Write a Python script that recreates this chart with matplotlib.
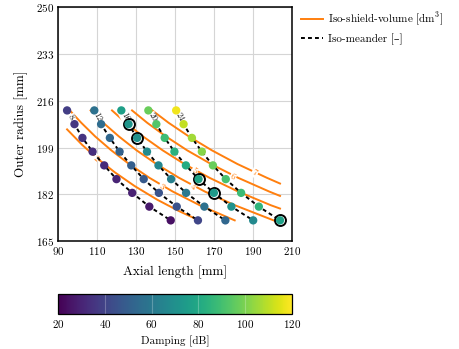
import numpy as np
import matplotlib
matplotlib.use("Agg")
from matplotlib import pyplot as plt

plt.rcParams['font.family'] = ['cmr10', 'DejaVu Serif']
plt.rcParams['mathtext.fontset'] = 'cm'
plt.rcParams['axes.formatter.use_mathtext'] = True

# outer radius of every point row (same for all meander lines)
radius = [212.5, 207.5, 202.5, 197.5, 192.5, 187.5, 182.5, 177.5, 172.5]

# axial length per meander line, top row to bottom row
meanders = [8, 12, 16, 20, 24]
length_8 = [94.5, 98.3, 102.4, 107.6, 113.6, 119.9, 128.0, 136.8, 147.8]
length_12 = [108.5, 112.0, 116.5, 121.5, 127.5, 133.9, 141.7, 150.9, 161.8]
length_16 = [122.4, 126.1, 130.5, 135.6, 141.5, 148.0, 155.7, 165.1, 175.9]
length_20 = [136.3, 140.4, 144.7, 149.7, 155.6, 162.1, 170.0, 179.0, 190.2]
length_24 = [150.6, 154.4, 158.7, 163.8, 169.5, 176.1, 184.0, 193.1, 204.0]

# damping [dB] per point
damp_8 = [38, 36, 35, 33, 32, 30, 29, 27, 24]
damp_12 = [57, 55, 53, 51, 50, 48, 46, 45, 41]
damp_16 = [76, 72, 70, 68, 66, 63, 60, 57, 53]
damp_20 = [97, 93, 89, 84, 81, 78, 74, 71, 67]
damp_24 = [118, 111, 106, 102, 97, 91, 88, 85, 77]

# highlighted designs (meander index, row index)
highlight = [(2, 1), (2, 2), (3, 5), (3, 6), (4, 8)]

# iso shield volume curves [dm3]
volumes = [2, 3, 4, 5, 6, 7]
iso_L = [
    [94.5, 102.2, 110.1, 119.0, 129.2, 140.9, 151.7, 162.3],
    [95.9, 101.8, 109.0, 117.2, 126.4, 136.8, 148.8, 162.7, 180.7],
    [106.6, 113.1, 121.2, 130.2, 140.4, 152.0, 165.3, 180.8, 200.7],
    [117.6, 124.7, 133.6, 143.6, 154.8, 167.7, 182.4, 199.3, 204.0],
    [127.9, 135.7, 145.4, 156.2, 168.5, 182.4, 198.4, 204.0],
    [138.3, 146.7, 157.2, 168.9, 182.1, 197.2, 204.0],
]
iso_r = [
    [205.6, 200, 195, 190, 185, 180, 176, 172.5],
    [212.5, 208, 203, 198, 193, 188, 183, 178, 172.5],
    [212.5, 208, 203, 198, 193, 188, 183, 178, 172.5],
    [212.5, 208, 203, 198, 193, 188, 183, 178, 176.8],
    [212.5, 208, 203, 198, 193, 188, 183, 181.4],
    [212.5, 208, 203, 198, 193, 188, 185.9],
]
# label positions on the volume curves
vol_lab_L = [109.0, 143.1, 159.2, 160.0, 179.8, 191.1]
vol_lab_r = [194.9, 184.7, 184.7, 190.4, 188.3, 189.9]
vol_lab_rot = [-40, -30, -27, -29, -26, -25]

lengths = [length_8, length_12, length_16, length_20, length_24]
damps = [damp_8, damp_12, damp_16, damp_20, damp_24]
orange = '#ff7f0e'

fig = plt.figure(figsize=(4.6, 3.49), dpi=100)
ax = fig.add_axes([0.1268, 0.3095, 0.5073, 0.6695])

for k in range(len(volumes)):
    ax.plot(iso_L[k], iso_r[k], color=orange, lw=1.4, zorder=2,
            label='Iso-shield-volume [dm$^3$]' if k == 0 else None)
    ax.text(vol_lab_L[k], vol_lab_r[k], str(volumes[k]), color=orange, fontsize=6.5,
            rotation=vol_lab_rot[k], ha='center', va='center', zorder=2.5,
            bbox=dict(boxstyle='square,pad=0.1', fc='white', ec='none'))

for i, m in enumerate(meanders):
    ax.plot(lengths[i], radius, color='black', lw=1.4, ls=(0, (2, 1.6)), zorder=3,
            label='Iso-meander [–]' if i == 0 else None)
    ax.text((lengths[i][0] + lengths[i][1]) / 2, (radius[0] + radius[1]) / 2, str(m),
            fontsize=6.5, color='#222222', rotation=-62, ha='center', va='center', zorder=3.5,
            bbox=dict(boxstyle='square,pad=0.05', fc='white', ec='none'))

for (i, j) in highlight:
    ax.scatter(lengths[i][j], radius[j], s=62, facecolor='white', edgecolor='black',
               lw=1.4, zorder=4)

all_L = np.concatenate(lengths)
all_r = np.tile(radius, len(meanders))
all_d = np.concatenate(damps)
sc = ax.scatter(all_L, all_r, c=all_d, cmap='viridis', vmin=20, vmax=120, s=36,
                edgecolor='none', zorder=5)

ax.set_xlim(90, 210)
ax.set_ylim(165, 250)
ax.set_xticks(np.arange(90, 211, 20))
ax.set_yticks([165, 182, 199, 216, 233, 250])
ax.grid(color='#d5d5d5', lw=0.8, zorder=0)
ax.set_axisbelow(True)
ax.tick_params(length=0, pad=3, labelsize=8)
for s in ax.spines.values():
    s.set_linewidth(1.1)
ax.set_xlabel('Axial length [mm]', fontsize=9.5, labelpad=6)
ax.set_ylabel('Outer radius [mm]', fontsize=9.5, labelpad=6)

fig.legend(loc='upper left', bbox_to_anchor=(0.654, 0.968), frameon=False,
           borderpad=0, borderaxespad=0, fontsize=8, handlelength=2.0,
           handletextpad=0.4, labelspacing=0.45)

cax = fig.add_axes([0.1268, 0.0994, 0.5073, 0.0573])
cb = fig.colorbar(sc, cax=cax, orientation='horizontal')
cb.set_ticks([20, 40, 60, 80, 100, 120])
cb.ax.tick_params(length=0, labelsize=8, pad=3)
cb.ax.grid(axis='x', color='white', alpha=0.25, lw=0.8)
cb.outline.set_linewidth(0.9)
cb.set_label('Damping [dB]', fontsize=8, labelpad=4)

fig.savefig('out.png', dpi=100)
